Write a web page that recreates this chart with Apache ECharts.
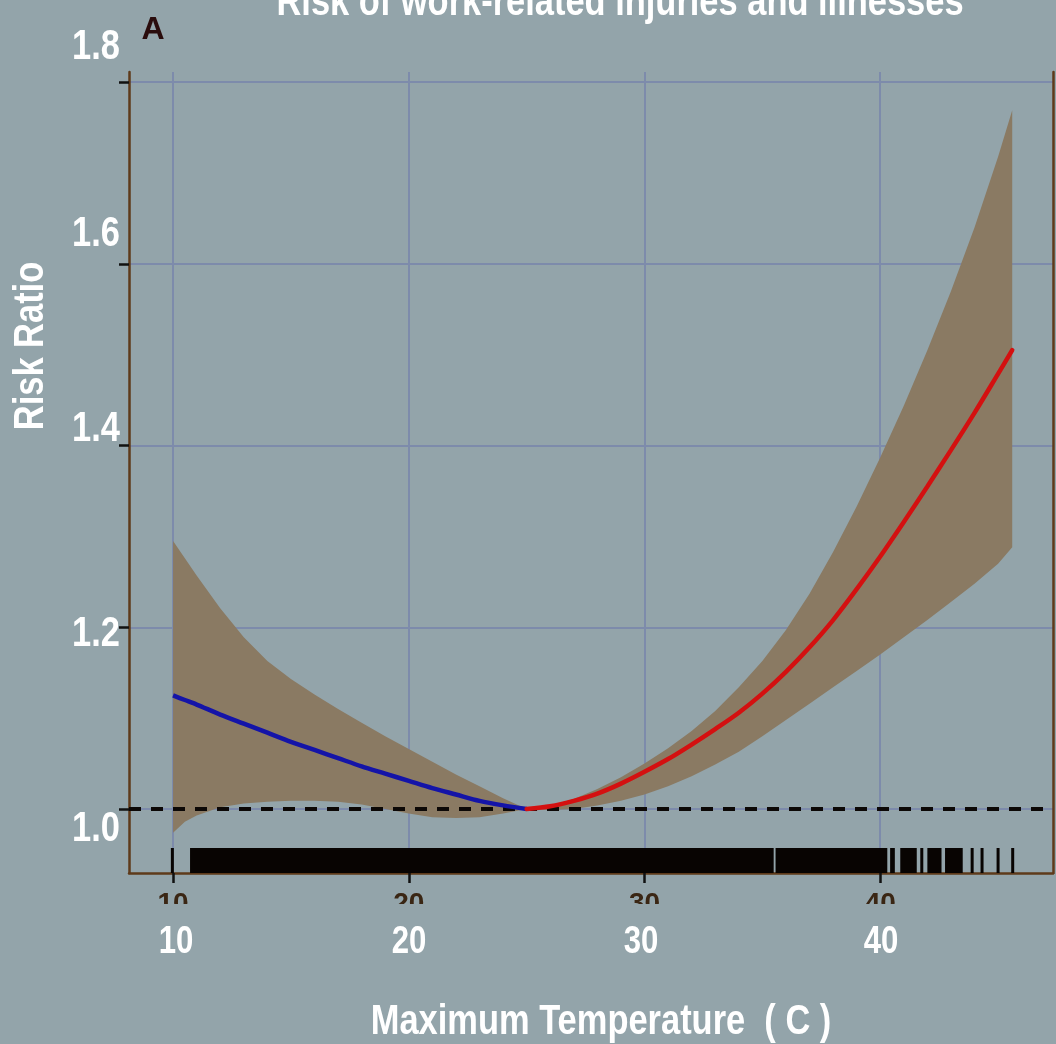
<!DOCTYPE html>
<html>
<head>
<meta charset="utf-8">
<title>Risk of work-related injuries and illnesses</title>
<script src="https://cdn.jsdelivr.net/npm/echarts@6/dist/echarts.min.js"></script>
<style>
  html, body { margin: 0; padding: 0; background: #93a4aa; }
  #chart { width: 1056px; height: 1044px; }
</style>
</head>
<body>
<div id="chart"></div>
<script>
// ---- data ----------------------------------------------------------------
const xTickValues = [10, 20, 30, 40];
const xTickLabels = ['10', '20', '30', '40'];
const yTickValues = [1.0, 1.2, 1.4, 1.6, 1.8];
const yTickLabels = ['1.0', '1.2', '1.4', '1.6', '1.8'];
const referenceRatio = 1.0;

// cold side (below the minimum-risk temperature)
const coldTemp  = [10, 10.5, 11, 12, 13, 14, 15, 16, 17, 18, 19, 20, 21, 22, 23, 24, 25];
const coldFit   = [1.125, 1.120, 1.115, 1.104, 1.094, 1.084, 1.074, 1.065, 1.056, 1.047, 1.039, 1.031, 1.023, 1.016, 1.009, 1.004, 1.000];
const coldLower = [0.974, 0.986, 0.993, 1.002, 1.006, 1.008, 1.009, 1.009, 1.008, 1.005, 1.000, 0.995, 0.991, 0.990, 0.991, 0.995, 1.000];
const coldUpper = [1.295, 1.276, 1.257, 1.221, 1.189, 1.163, 1.143, 1.126, 1.110, 1.095, 1.080, 1.066, 1.052, 1.038, 1.025, 1.012, 1.000];

// hot side (above the minimum-risk temperature)
const hotTemp  = [25, 26, 27, 28, 29, 30, 31, 32, 33, 34, 35, 36, 37, 38, 39, 40, 41, 42, 43, 44, 45, 45.6];
const hotFit   = [1.000, 1.003, 1.009, 1.017, 1.028, 1.041, 1.055, 1.071, 1.088, 1.106, 1.127, 1.151, 1.178, 1.208, 1.242, 1.278, 1.316, 1.355, 1.395, 1.436, 1.479, 1.505];
const hotLower = [1.000, 0.999, 1.000, 1.004, 1.009, 1.016, 1.025, 1.036, 1.049, 1.063, 1.080, 1.098, 1.116, 1.134, 1.152, 1.170, 1.189, 1.208, 1.228, 1.248, 1.270, 1.288];
const hotUpper = [1.000, 1.004, 1.011, 1.022, 1.035, 1.050, 1.067, 1.086, 1.108, 1.134, 1.163, 1.197, 1.237, 1.283, 1.333, 1.387, 1.444, 1.505, 1.570, 1.640, 1.718, 1.769];

// rug of observed daily maximum temperatures: dense stretches and single days
const rugSpans = [[10.72, 35.48], [35.56, 40.3], [40.42, 40.62], [40.85, 41.55], [41.7, 41.82], [42.0, 42.6], [42.75, 43.5]];
const rugTicks = [9.97, 43.9, 44.32, 45.0, 45.62];

// ---- styling / layout ----------------------------------------------------
const BG = '#93a4aa';
const BAND = '#8a7a63';
const GRID_LINE = '#7d8bab';
const FRAME = '#5e3a1a';
const WHITE_FONT = '"Liberation Sans", "Arial", sans-serif';
const NARROW = 0.82;           // horizontal squeeze for the condensed white lettering
const X_MIN = 8.13, X_MAX = 47.33, Y_MIN = 0.9296, Y_MAX = 1.8112;
const RUG_HEIGHT = 25;

const yLabelPos = [[96, 829], [96, 634], [96, 429], [96, 234], [96, 47]];
const xLabelPos = [[176, 943], [409, 943], [641, 943], [881, 943]];

const zip = (xs, ys) => xs.map((x, i) => [x, ys[i]]);

function bandSeries(temp, lower, upper) {
  return {
    type: 'custom',
    silent: true,
    z: 2,
    clip: true,
    data: [[temp[0], lower[0]]],
    renderItem: function (params, api) {
      const pts = [];
      for (let i = 0; i < temp.length; i++) pts.push(api.coord([temp[i], upper[i]]));
      for (let i = temp.length - 1; i >= 0; i--) pts.push(api.coord([temp[i], lower[i]]));
      return { type: 'polygon', shape: { points: pts, smooth: 0 }, style: { fill: BAND } };
    }
  };
}

function whiteText(text, x, y, size, extra) {
  return Object.assign({
    type: 'text', z: 101, x: x, y: y, scaleX: NARROW,
    style: { text: text, font: 'bold ' + size + 'px ' + WHITE_FONT, fill: '#ffffff', align: 'center', verticalAlign: 'middle' }
  }, extra || {});
}

const rugData = rugSpans.concat(rugTicks.map(t => [t, t]));

const graphics = [];
// cover the lower half of the small axis numerals
graphics.push({ type: 'rect', z: 100, shape: { x: 100, y: 904, width: 956, height: 20 }, style: { fill: BG } });
graphics.push(whiteText('Risk of work-related injuries and illnesses', 620, 3, 42));
graphics.push({
  type: 'text', z: 101, x: 153, y: 30,
  style: { text: 'A', font: 'bold 32px "Liberation Sans", sans-serif', fill: '#2a0c0c', align: 'center', verticalAlign: 'middle' }
});
yTickLabels.forEach((t, i) => graphics.push(whiteText(t, yLabelPos[i][0], yLabelPos[i][1], 42)));
xTickLabels.forEach((t, i) => graphics.push(whiteText(t, xLabelPos[i][0], xLabelPos[i][1], 38)));
graphics.push(whiteText('Risk Ratio', 31, 346, 42, { rotation: Math.PI / 2 }));
graphics.push(whiteText('Maximum Temperature  ( C )', 601, 1022, 42));

const chart = echarts.init(document.getElementById('chart'), null, { renderer: 'canvas' });
chart.setOption({
  animation: false,
  backgroundColor: BG,
  grid: { left: 129, right: 3, top: 72, bottom: 171, containLabel: false },
  xAxis: {
    type: 'value', min: X_MIN, max: X_MAX,
    axisLine: { show: true, lineStyle: { color: FRAME, width: 2.5 } },
    axisTick: { show: true, customValues: xTickValues, length: 10, inside: false, lineStyle: { color: '#111', width: 2.5 } },
    axisLabel: {
      show: true, customValues: xTickValues, margin: 17,
      color: '#3a2614', fontSize: 28, fontWeight: 'bold', fontFamily: '"Liberation Sans", sans-serif',
      formatter: v => xTickLabels[xTickValues.indexOf(v)] || ''
    },
    splitLine: { show: true, lineStyle: { color: GRID_LINE, width: 2 } }
  },
  yAxis: [{
    type: 'value', min: Y_MIN, max: Y_MAX,
    axisLine: { show: true, lineStyle: { color: FRAME, width: 2.5 } },
    axisTick: { show: true, customValues: yTickValues, length: 10, inside: false, lineStyle: { color: '#111', width: 2.5 } },
    axisLabel: { show: false, customValues: yTickValues },
    splitLine: { show: true, lineStyle: { color: GRID_LINE, width: 2 } }
  }, {
    type: 'value', min: Y_MIN, max: Y_MAX, position: 'right',
    axisLine: { show: true, lineStyle: { color: FRAME, width: 2.5 } },
    axisTick: { show: false }, axisLabel: { show: false }, splitLine: { show: false }
  }],
  graphic: graphics,
  series: [
    bandSeries(coldTemp, coldLower, coldUpper),
    bandSeries(hotTemp, hotLower, hotUpper),
    {
      type: 'custom', silent: true, z: 3, clip: false,
      data: rugData,
      renderItem: function (params, api) {
        const a = api.coord([api.value(0), Y_MIN]);
        const b = api.coord([api.value(1), Y_MIN]);
        const w = Math.max(b[0] - a[0], 3);
        return {
          type: 'rect',
          shape: { x: a[0] - (b[0] > a[0] ? 0 : 1.5), y: a[1] - RUG_HEIGHT, width: w, height: RUG_HEIGHT },
          style: { fill: '#080402' }
        };
      }
    },
    {
      type: 'line', name: 'cold', z: 5, smooth: 0.3, showSymbol: false, silent: true,
      data: zip(coldTemp, coldFit),
      lineStyle: { color: '#1414a8', width: 4.5 }
    },
    {
      type: 'line', name: 'hot', z: 5, smooth: 0.3, showSymbol: false, silent: true,
      data: zip(hotTemp, hotFit),
      lineStyle: { color: '#d41010', width: 4.5, cap: 'round' }
    },
    {
      type: 'line', name: 'reference', z: 4, silent: true, data: [],
      markLine: {
        silent: true, symbol: 'none', label: { show: false },
        lineStyle: { color: '#0c0806', width: 4, type: [12, 10] },
        data: [{ yAxis: referenceRatio }]
      }
    }
  ]
});
</script>
</body>
</html>
